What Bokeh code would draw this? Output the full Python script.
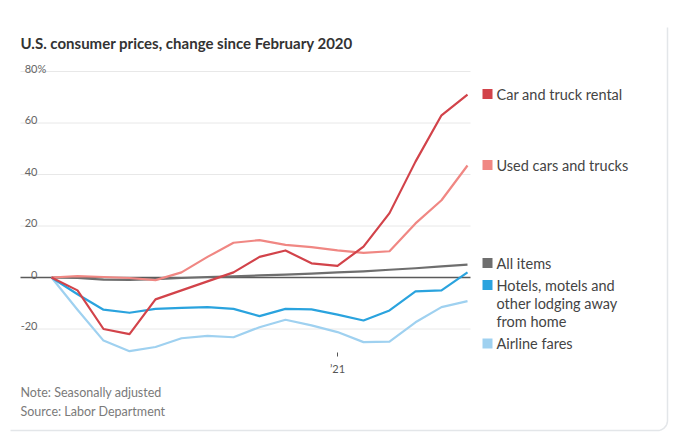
from bokeh.plotting import figure
from bokeh.models import Range1d
from bokeh.core.properties import value
from bokeh.embed import file_html
from bokeh.resources import INLINE
import math

# ---- data -------------------------------------------------------------
months = ["Feb 2020", "Mar 2020", "Apr 2020", "May 2020", "Jun 2020", "Jul 2020",
          "Aug 2020", "Sep 2020", "Oct 2020", "Nov 2020", "Dec 2020", "Jan 2021",
          "Feb 2021", "Mar 2021", "Apr 2021", "May 2021", "Jun 2021"]
car_rental = [0, -5, -20, -22, -8.5, -5, -1.5, 2, 8, 10.5, 5.5, 4.5, 12, 25, 45, 63, 71]
used_cars = [0, 0.5, 0.2, -0.2, -1, 2, 8, 13.5, 14.5, 12.7, 11.8, 10.5, 9.6, 10.2, 21, 30, 43.5]
all_items = [0, -0.2, -0.8, -0.9, -0.6, -0.2, 0.2, 0.4, 0.8, 1.1, 1.5, 2.0, 2.4, 3.0, 3.6, 4.3, 5.0]
hotels = [0, -6.5, -12.5, -13.7, -12.2, -11.8, -11.5, -12.2, -15, -12.2, -12.4, -14.4, -16.7, -12.8, -5.4, -5, 2]
airline = [0, -12.5, -24.5, -28.6, -27, -23.6, -22.7, -23.2, -19.3, -16.4, -18.6, -21.2, -25.1, -24.9, -17.4, -11.5, -9.2]

y_ticks = [-20, 0, 20, 40, 60, 80]
y_tick_labels = ["-20", "0", "20", "40", "60", "80"]
x_tick_month = "Jan 2021"
x_tick_label = "\u201921"

series_names = ["Car and truck rental", "Used cars and trucks", "All items",
                "Hotels, motels and other lodging away from home", "Airline fares"]
series_values = [car_rental, used_cars, all_items, hotels, airline]
series_colors = ["#d2434a", "#f08783", "#6e6e6e", "#2aa3de", "#9fd1f0"]

# ---- layout helpers (pixel <-> data) ----------------------------------
W, H = 678, 440
X0_PX, X_STEP = 51.0, 26.0       # pixel of first month, pixels per month
Y0_PX, Y_SCALE = 277.0, 2.575    # pixel of 0%, pixels per percentage point


def dx(px):
    return (px - X0_PX) / X_STEP


def dy(py):
    return (Y0_PX - py) / Y_SCALE


xs = list(range(len(months)))

p = figure(width=W, height=H, output_backend="svg", toolbar_location=None,
           x_range=Range1d(dx(0), dx(W)), y_range=Range1d(dy(H), dy(0)),
           x_axis_type=None, y_axis_type=None, min_border=0,
           tools="")
p.outline_line_color = None
p.xgrid.visible = False
p.ygrid.visible = False
p.background_fill_color = "white"
p.border_fill_color = "white"

FONT = value("Lato")

# card border (right + bottom, rounded corner)
r = 10.0
arc_t = [i / 12 * (math.pi / 2) for i in range(13)]
bx = [dx(10)] + [dx(667 - r + r * math.sin(t)) for t in arc_t] + [dx(667)]
by = [dy(430)] + [dy(430 - r + r * math.cos(t)) for t in arc_t] + [dy(27)]
p.line(bx, by, line_color="#e3e6e9", line_width=1.5)

# grid lines
gx0, gx1 = dx(20), dx(470)
grid_non_zero = [t for t in y_ticks if t != 0]
p.segment(x0=[gx0] * len(grid_non_zero), x1=[gx1] * len(grid_non_zero),
          y0=grid_non_zero, y1=grid_non_zero, line_color="#e8e8e8", line_width=1)
p.segment(x0=[gx0], x1=[gx1], y0=[0], y1=[0], line_color="#5a5a5a", line_width=1.6)

# y tick labels (right-aligned, sitting just above their grid lines)
p.text(x=[dx(37)] * len(y_ticks), y=[t + dy(277 - 3) for t in y_ticks], text=y_tick_labels,
       text_font=FONT, text_font_size="11px", text_color="#666666",
       text_align="right", text_baseline="alphabetic")
p.text(x=[dx(37)], y=[80 + dy(277 - 3)], text=["%"],
       text_font=FONT, text_font_size="11px", text_color="#666666",
       text_align="left", text_baseline="alphabetic")

# x tick
xt = months.index(x_tick_month)
p.segment(x0=[xt], x1=[xt], y0=[dy(352)], y1=[dy(356)], line_color="#555555", line_width=1)
p.text(x=[xt], y=[dy(368)], text=[x_tick_label], text_font=FONT, text_font_size="11px",
       text_color="#555555", text_align="center", text_baseline="middle")

# series lines (draw order: bottom to top)
for idx in [4, 3, 2, 1, 0]:
    p.line(xs, series_values[idx], line_color=series_colors[idx], line_width=2.2,
           line_join="round")

# legend
leg_y_px = [93.5, 164.5, 262.5, 284.5, 343]
leg_lines = [["Car and truck rental"], ["Used cars and trucks"], ["All items"],
             ["Hotels, motels and", "other lodging away", "from home"], ["Airline fares"]]
p.scatter(x=[dx(487)] * 5, y=[dy(v) for v in leg_y_px], marker="square", size=10,
          fill_color=series_colors, line_color=None)
tx, ty, tt = [], [], []
for ypx, lines in zip(leg_y_px, leg_lines):
    for k, ln in enumerate(lines):
        tx.append(dx(496))
        ty.append(dy(ypx + k * 18))
        tt.append(ln)
p.text(x=tx, y=ty, text=tt, text_font=FONT, text_font_size="14.5px", text_color="#444444",
       text_align="left", text_baseline="middle")

# title
p.text(x=[dx(20)], y=[dy(42)], text=["U.S. consumer prices, change since February 2020"],
       text_font=FONT, text_font_size="15px", text_font_style="bold", text_color="#333333",
       text_align="left", text_baseline="alphabetic")

# notes
p.text(x=[dx(20), dx(20)], y=[dy(392), dy(411)],
       text=["Note: Seasonally adjusted", "Source: Labor Department"],
       text_font=FONT, text_font_size="12.5px", text_color="#7a7a7a",
       text_align="left", text_baseline="middle")

open("out.html", "w").write(file_html(p, INLINE))
